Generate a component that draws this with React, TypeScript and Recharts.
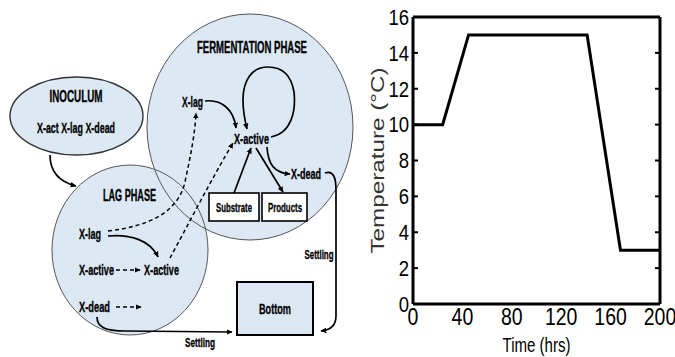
import React from 'react';
import { LineChart, Line, XAxis, YAxis } from 'recharts';

// ---- chart data ----
const timeHrs = [0, 24, 45, 141, 168, 200];
const temperatureC = [10, 10, 15, 15, 3, 3];
const xLabelTicks = [0, 40, 80, 120, 160, 200];
const xMinorTicks = [0, 20, 40, 60, 80, 100, 120, 140, 160, 180, 200];
const yTicks = [0, 2, 4, 6, 8, 10, 12, 14, 16];
const xTitle = 'Time (hrs)';
const yTitle = 'Temperature (°C)';

const data = timeHrs.map((t, i) => ({ time: t, temp: temperatureC[i] }));

const NARROW = '"Liberation Sans Narrow", "Arial Narrow", "Liberation Sans", sans-serif';
const SANS = '"Liberation Sans", Arial, sans-serif';
const BLUE = '#dce9f5';

function ST(props: any) {
  const { x, y, children, size = 11.5, bold = false, sy = 1.3, anchor = 'middle', fill = '#000', len } = props;
  return (
    <g transform={`translate(${x},${y}) scale(1,${sy})`}>
      <text
        x={0}
        y={0}
        dy="0.35em"
        textAnchor={anchor}
        fontFamily={NARROW}
        fontSize={size}
        fontWeight={bold ? 700 : 400}
        fill={fill}
        stroke={fill}
        strokeWidth={0.25}
        textLength={len}
        lengthAdjust="spacingAndGlyphs"
      >
        {children}
      </text>
    </g>
  );
}

function Diagram() {
  const solid = { fill: 'none', stroke: '#000', strokeWidth: 1.7, markerEnd: 'url(#ah)' } as any;
  const dashed = { ...solid, strokeWidth: 1.5, strokeDasharray: '4 3' } as any;
  return (
    <svg width={360} height={357} style={{ position: 'absolute', left: 0, top: 0 }}>
      <defs>
        <marker id="ah" viewBox="0 0 10 10" refX="9" refY="5" markerWidth="6" markerHeight="6" orient="auto" markerUnits="userSpaceOnUse">
          <path d="M0,0.5 L10,5 L0,9.5 z" fill="#000" />
        </marker>
      </defs>
      {/* fills */}
      <ellipse cx={250} cy={127} rx={103} ry={113} fill={BLUE} />
      <ellipse cx={130} cy={250} rx={78} ry={85} fill={BLUE} />
      <ellipse cx={250} cy={127} rx={103} ry={113} fill="none" stroke="#555" strokeWidth={1} />
      <ellipse cx={130} cy={250} rx={78} ry={85} fill="none" stroke="#555" strokeWidth={1} />
      <ellipse cx={76.5} cy={116} rx={66.5} ry={39} fill={BLUE} stroke="#333" strokeWidth={1.4} />

      {/* boxes */}
      <rect x={209} y={193} width={50} height={28} fill="#fff" stroke="#000" strokeWidth={1.6} />
      <rect x={262} y={193} width={45} height={28} fill="#fff" stroke="#000" strokeWidth={1.6} />
      <rect x={237} y={282} width={76} height={53} fill={BLUE} stroke="#000" strokeWidth={2} />

      {/* arrows */}
      <path d="M50,155 C50,172 60,182 76,186" {...solid} />
      <path d="M205,101 C222,99 234,110 236,128" {...solid} />
      <path d="M108,231 C150,226 178,212 185,182 C190,158 195,135 196,113" {...dashed} />
      <path d="M170,258 C188,225 212,178 233,143" {...dashed} />
      <path d="M271,137 C292,133 296,110 294,92 C291,74 281,67 268,67 C252,67 243,80 243,100 C243,112 245,121 247,129" {...solid} />
      <path d="M234,193 L251,148" {...solid} />
      <path d="M256,148 L283,192" {...solid} />
      <path d="M267,147 C268,165 275,173 290,174" {...solid} />
      <path d="M325,173 C333,170 336,177 336,190 L336,316 C336,325 331,330 321,331" {...solid} />
      <path d="M108,236 C130,234 150,240 158,257" {...solid} />
      <path d="M116,270 L140,270" {...dashed} />
      <path d="M116,307 L141,307" {...dashed} />
      <path d="M97,317 C97,327 105,331 125,331 L232,332" {...solid} />

      {/* texts */}
      <ST x={76} y={96} bold sy={1.4} len={53}>INOCULUM</ST>
      <ST x={76} y={128} bold len={78}>X-act X-lag X-dead</ST>
      <ST x={252} y={47} bold sy={1.4} len={110}>FERMENTATION PHASE</ST>
      <ST x={192.5} y={102} bold len={21}>X-lag</ST>
      <ST x={251.5} y={139} bold len={35}>X-active</ST>
      <ST x={306} y={174} bold len={30}>X-dead</ST>
      <ST x={234} y={208} bold size={10.5} sy={1.15} len={36}>Substrate</ST>
      <ST x={285} y={208} bold size={10.5} sy={1.15} len={34}>Products</ST>
      <ST x={129.5} y={195} bold sy={1.4} len={53}>LAG PHASE</ST>
      <ST x={90} y={234} bold len={22}>X-lag</ST>
      <ST x={96.5} y={270} bold len={35}>X-active</ST>
      <ST x={161.5} y={270} bold len={35}>X-active</ST>
      <ST x={94.5} y={307} bold len={31}>X-dead</ST>
      <ST x={319} y={255} bold size={10.5} sy={1.15} len={29}>Settling</ST>
      <ST x={200} y={343} bold size={10.5} sy={1.15} len={30}>Settling</ST>
      <ST x={275} y={309} bold size={11.5} sy={1.25} len={32}>Bottom</ST>
    </svg>
  );
}

const XTick = (props: any) => {
  const { x, y, payload } = props;
  return (
    <g transform={`translate(${x},${y + 13}) scale(1,1.2)`}>
      <text x={0} y={0} dy="0.35em" textAnchor="middle" fontFamily={NARROW} fontSize={19.5} fill="#000">
        {payload.value}
      </text>
    </g>
  );
};

const YTick = (props: any) => {
  const { x, y, payload } = props;
  return (
    <g transform={`translate(${x},${y}) scale(1,1.2)`}>
      <text x={0} y={0} dy="0.35em" textAnchor="end" fontFamily={NARROW} fontSize={18.5} fill="#000">
        {payload.value}
      </text>
    </g>
  );
};

const NoLabel = () => <g />;

const YLabel = (p: any) => {
  const vb = p.viewBox || { x: 0, y: 17, width: 53, height: 287 };
  const cx = vb.x + 17;
  const cy = vb.y + vb.height / 2;
  return (
    <text x={cx} y={cy} dy="0.35em" transform={`rotate(-90 ${cx} ${cy})`} textAnchor="middle" fontFamily={SANS} fontSize={19} fill="#333" textLength={186} lengthAdjust="spacingAndGlyphs">
      {yTitle}
    </text>
  );
};

const XLabel = (p: any) => {
  const vb = p.viewBox || { x: 53, y: 304, width: 247, height: 53 };
  const cx = vb.x + vb.width / 2;
  const cy = vb.y + 41;
  return (
    <text x={cx} y={cy} dy="0.35em" textAnchor="middle" fontFamily={NARROW} fontSize={21} fill="#000" textLength={68} lengthAdjust="spacingAndGlyphs">
      {xTitle}
    </text>
  );
};

const frame = { stroke: '#000', strokeWidth: 3 };
const tickL = { stroke: '#000', strokeWidth: 2 };

export default function App() {
  return (
    <div style={{ position: 'absolute', left: 0, top: 0, width: 675, height: 357, background: '#fff' }}>
      <Diagram />
      <div style={{ position: 'absolute', left: 360, top: 0 }}>
        <LineChart width={315} height={357} data={data} margin={{ top: 17, right: 15, bottom: 0, left: 0 }}>
          <XAxis xAxisId="main" dataKey="time" type="number" domain={[0, 200]} allowDataOverflow ticks={xLabelTicks} interval={0} tickLine={false} axisLine={false} tickSize={0} tickMargin={0} height={53} tick={<XTick />} label={{ content: XLabel } as any} />
          <XAxis xAxisId="bottomTicks" type="number" domain={[0, 200]} allowDataOverflow ticks={xMinorTicks} interval={0} orientation="bottom" mirror height={1} tick={<NoLabel />} tickSize={5} axisLine={frame} tickLine={tickL} />
          <XAxis xAxisId="topTicks" type="number" domain={[0, 200]} allowDataOverflow ticks={xMinorTicks} interval={0} orientation="top" mirror height={1} tick={<NoLabel />} tickSize={5} axisLine={frame} tickLine={tickL} />
          <YAxis yAxisId="main" type="number" domain={[0, 16]} allowDataOverflow ticks={yTicks} interval={0} width={53} tickLine={false} axisLine={false} tickSize={0} tickMargin={4} tick={<YTick />} label={{ content: YLabel } as any} />
          <YAxis yAxisId="leftTicks" type="number" domain={[0, 16]} allowDataOverflow ticks={yTicks} interval={0} orientation="left" mirror width={1} tick={<NoLabel />} tickSize={5} axisLine={frame} tickLine={tickL} />
          <YAxis yAxisId="rightTicks" type="number" domain={[0, 16]} allowDataOverflow ticks={yTicks} interval={0} orientation="right" mirror width={1} tick={<NoLabel />} tickSize={5} axisLine={frame} tickLine={tickL} />
          <Line xAxisId="main" yAxisId="main" type="linear" dataKey="temp" stroke="#000" strokeWidth={3} dot={false} activeDot={false} isAnimationActive={false} />
        </LineChart>
      </div>
    </div>
  );
}
